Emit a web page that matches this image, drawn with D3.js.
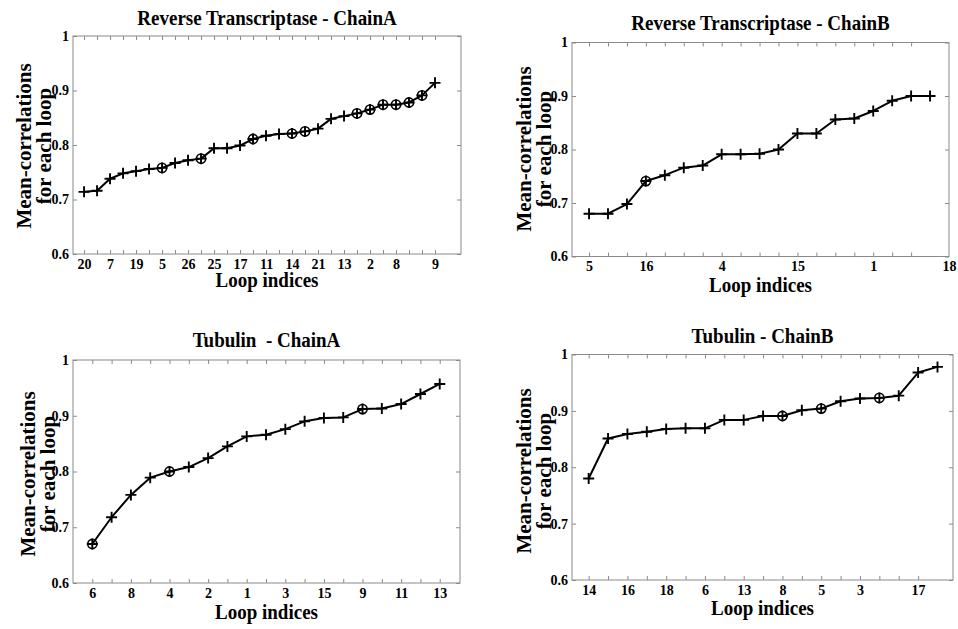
<!DOCTYPE html>
<html>
<head>
<meta charset="utf-8">
<script src="https://cdn.jsdelivr.net/npm/d3@7"></script>
<style>
  html, body { margin: 0; padding: 0; background: #fff; }
  svg { display: block; }
  text { font-family: "Liberation Serif", "Times New Roman", serif; font-weight: bold; fill: #000; }
</style>
</head>
<body>
<svg id="chart" width="958" height="629"></svg>
<script>
// Reverse Transcriptase - ChainA: mean correlation per loop, sorted ascending
const rtAValues = [0.714, 0.716, 0.738, 0.748, 0.752, 0.756, 0.758, 0.767, 0.772, 0.775,
                   0.794, 0.794, 0.799, 0.811, 0.817, 0.820, 0.821, 0.825, 0.830, 0.848,
                   0.853, 0.858, 0.865, 0.874, 0.874, 0.878, 0.891, 0.914];
const rtACircled = [6, 9, 13, 16, 17, 21, 22, 23, 24, 25, 26];
const rtATickPos = [0, 2, 4, 6, 8, 10, 12, 14, 16, 18, 20, 22, 24, 27];
const rtATickText = ["20", "7", "19", "5", "26", "25", "17", "11", "14", "21", "13", "2", "8", "9"];

// Reverse Transcriptase - ChainB
const rtBValues = [0.680, 0.680, 0.698, 0.741, 0.752, 0.766, 0.770, 0.791, 0.791, 0.792,
                   0.800, 0.830, 0.830, 0.856, 0.858, 0.872, 0.891, 0.900, 0.900];
const rtBCircled = [3];
const rtBTickPos = [0, 3, 7, 11, 15, 19];
const rtBTickText = ["5", "16", "4", "15", "1", "18"];

// Tubulin - ChainA
const tubAValues = [0.670, 0.718, 0.758, 0.789, 0.800, 0.808, 0.824, 0.845, 0.863, 0.866,
                    0.876, 0.890, 0.896, 0.897, 0.912, 0.913, 0.921, 0.939, 0.957];
const tubACircled = [0, 4, 14];
const tubATickPos = [0, 2, 4, 6, 8, 10, 12, 14, 16, 18];
const tubATickText = ["6", "8", "4", "2", "1", "3", "15", "9", "11", "13"];

// Tubulin - ChainB
const tubBValues = [0.780, 0.851, 0.859, 0.863, 0.868, 0.869, 0.869, 0.884, 0.884, 0.891,
                    0.891, 0.901, 0.904, 0.917, 0.922, 0.923, 0.927, 0.968, 0.978];
const tubBCircled = [10, 12, 15];
const tubBTickPos = [0, 2, 4, 6, 8, 10, 12, 14, 17];
const tubBTickText = ["14", "16", "18", "6", "13", "8", "5", "3", "17"];

const yTickValues = [0.6, 0.7, 0.8, 0.9, 1.0];
const titles = ["Reverse Transcriptase - ChainA", "Reverse Transcriptase - ChainB",
                "Tubulin  - ChainA", "Tubulin - ChainB"];
const xLabel = "Loop indices";
const yLabelLines = ["Mean-correlations", "for each loop"];

// Panel frames (pixel boxes) and x extents in index units
const panels = [
  { values: rtAValues, circled: rtACircled, tickPos: rtATickPos, tickText: rtATickText,
    minorMax: 27, title: titles[0],
    box: { l: 73, r: 461, t: 36, b: 254 }, xDom: [-0.85, 29.0],
    titleY: 25, xLabY: 287, yLab: { cy: 146, x2: 51 } },
  { values: rtBValues, circled: rtBCircled, tickPos: rtBTickPos, tickText: rtBTickText,
    minorMax: 17, title: titles[1],
    box: { l: 572, r: 949, t: 42.5, b: 256.5 }, xDom: [-0.9, 19.0],
    titleY: 30, xLabY: 291.5, yLab: { cy: 149, x2: 551 } },
  { values: tubAValues, circled: tubACircled, tickPos: tubATickPos, tickText: tubATickText,
    minorMax: 18, title: titles[2],
    box: { l: 73, r: 460, t: 360, b: 583 }, xDom: [-1.0, 19.05],
    titleY: 346.5, xLabY: 618.5, yLab: { cy: 474, x2: 55 } },
  { values: tubBValues, circled: tubBCircled, tickPos: tubBTickPos, tickText: tubBTickText,
    minorMax: 17, title: titles[3],
    box: { l: 572, r: 953, t: 354.5, b: 580 }, xDom: [-0.86, 18.8],
    titleY: 342.5, xLabY: 614.5, yLab: { cy: 471, x2: 551 } }
];

const svg = d3.select("#chart");
const axisColor = "#8a8a8a";
const tall = 1.08;   // glyphs of the horizontal labels are drawn slightly taller

panels.forEach(p => {
  const { l, r, t, b } = p.box;
  const x = d3.scaleLinear().domain(p.xDom).range([l, r]);
  const y = d3.scaleLinear().domain([0.6, 1.0]).range([b, t]);
  const g = svg.append("g");
  const minorTicks = d3.range(0, p.minorMax + 1);
  const labelOf = new Map(p.tickPos.map((pos, i) => [pos, p.tickText[i]]));

  // Bottom axis: inward ticks at every loop, labels on selected ones
  const bottom = g.append("g").attr("transform", `translate(0,${b})`)
    .call(d3.axisBottom(x).tickValues(minorTicks).tickSize(-4).tickPadding(6)
      .tickFormat(() => ""));
  bottom.append("g").call(d3.axisBottom(x).tickValues(p.tickPos).tickSize(0).tickPadding(5)
      .tickFormat(d => labelOf.get(d)));
  // Top axis: inward ticks only
  g.append("g").attr("transform", `translate(0,${t})`)
    .call(d3.axisTop(x).tickValues(minorTicks).tickSize(-4).tickFormat(() => ""));
  // Left axis with labels, right axis ticks only
  g.append("g").attr("transform", `translate(${l},0)`)
    .call(d3.axisLeft(y).tickValues(yTickValues).tickSize(-4).tickPadding(4)
      .tickFormat(d => d === 1 ? "1" : d3.format(".1f")(d)));
  g.append("g").attr("transform", `translate(${r},0)`)
    .call(d3.axisRight(y).tickValues(yTickValues).tickSize(-4).tickFormat(() => ""));

  g.selectAll(".domain").remove();
  g.selectAll(".tick line").attr("stroke", axisColor).attr("stroke-width", 1);
  g.selectAll(".tick text").style("font-size", "14px")
    .style("font-family", "'Liberation Serif', serif").style("font-weight", "bold")
    .attr("fill", "#000");

  // Plot frame
  g.append("rect").attr("x", l).attr("y", t).attr("width", r - l).attr("height", b - t)
    .attr("fill", "none").attr("stroke", axisColor).attr("stroke-width", 1);

  // Data line
  const line = d3.line().x((d, i) => x(i)).y(d => y(d));
  g.append("path").datum(p.values).attr("d", line)
    .attr("fill", "none").attr("stroke", "#000").attr("stroke-width", 2)
    .attr("stroke-linejoin", "round");

  // Plus markers on every point
  const s = 5.5;
  g.selectAll(".plus").data(p.values).enter().append("path")
    .attr("d", (d, i) => `M${x(i) - s},${y(d)}H${x(i) + s}M${x(i)},${y(d) - s}V${y(d) + s}`)
    .attr("stroke", "#000").attr("stroke-width", 1.9).attr("fill", "none");

  // Circle markers on highlighted loops
  g.selectAll(".ring").data(p.circled).enter().append("circle")
    .attr("cx", i => x(i)).attr("cy", i => y(p.values[i])).attr("r", 4.6)
    .attr("fill", "none").attr("stroke", "#000").attr("stroke-width", 1.6);

  // Title
  g.append("text").attr("transform", `translate(${(l + r) / 2},${p.titleY}) scale(1,${tall})`)
    .attr("text-anchor", "middle").style("font-size", "19px").style("white-space", "pre")
    .attr("xml:space", "preserve").text(p.title);

  // X axis label
  g.append("text").attr("transform", `translate(${(l + r) / 2},${p.xLabY}) scale(1,${tall})`)
    .attr("text-anchor", "middle").style("font-size", "19px").text(xLabel);

  // Y axis label: two rotated lines
  yLabelLines.forEach((txt, k) => {
    const bx = p.yLab.x2 - (1 - k) * 20;
    g.append("text").attr("transform", `translate(${bx},${p.yLab.cy}) rotate(-90)`)
      .attr("text-anchor", "middle").style("font-size", "21px").text(txt);
  });
});
</script>
</body>
</html>
